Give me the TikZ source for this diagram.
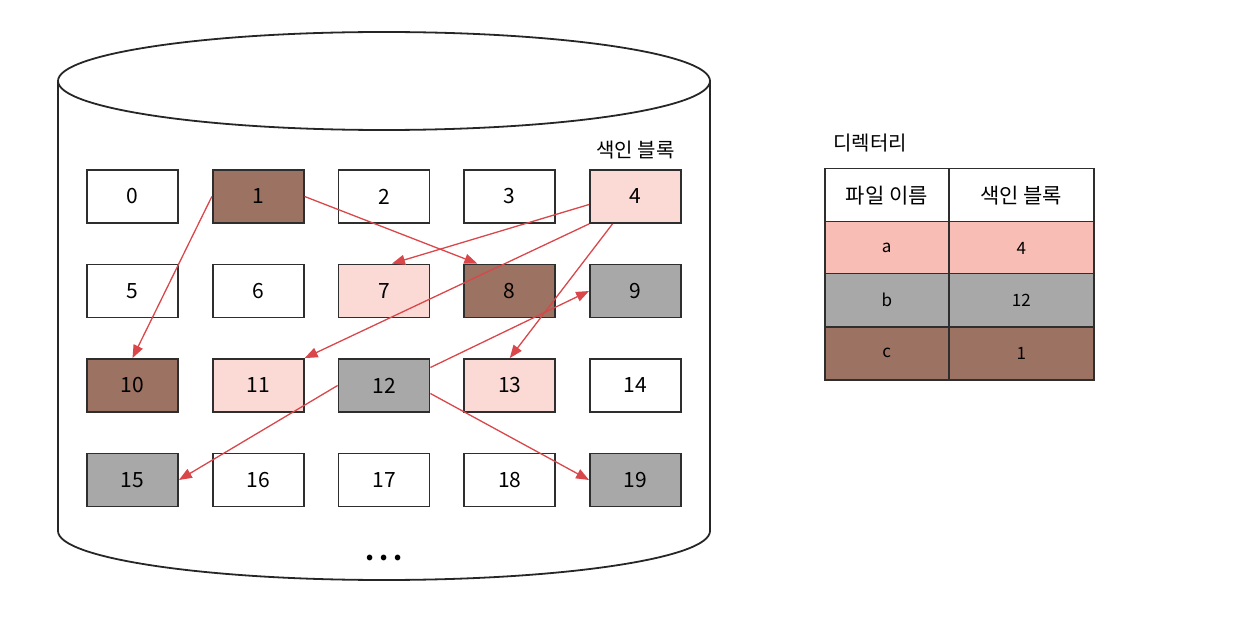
\documentclass[tikz,border=0pt]{standalone}
\usepackage{fontspec}
\setmainfont{Noto Sans CJK KR}
\usetikzlibrary{arrows.meta,calc}
\definecolor{brownc}{HTML}{9C7262}
\definecolor{pinkl}{HTML}{FBDAD6}
\definecolor{grayc}{HTML}{A8A8A8}
\definecolor{pinkt}{HTML}{F8BDB5}
\definecolor{linec}{HTML}{2E2E2E}
\definecolor{arrowc}{HTML}{D9474A}
\tikzset{
  blk/.style={draw=linec, line width=1.8pt, fill=white, minimum width=91pt, minimum height=53pt, inner sep=0pt, font=\fontsize{21}{21}\selectfont},
  cell/.style={draw=linec, line width=1.5pt, minimum height=53pt, inner sep=0pt, font=\fontsize{17}{17}\selectfont},
  cellA/.style={cell, minimum width=124pt},
  cellB/.style={cell, minimum width=145pt},
  ptr/.style={draw=arrowc, line width=1.3pt, -{Triangle[length=13pt,width=10pt]}},
  cyl/.style={draw=black!85, line width=1.8pt}
}
\begin{document}
\begin{tikzpicture}[x=1pt,y=-1pt]
\useasboundingbox (0,0) rectangle (1243,631);
% cylinder
\draw[cyl] (384,81) ellipse [x radius=326pt, y radius=49pt];
\draw[cyl] (58,81) -- (58,531) arc[start angle=180, end angle=360, x radius=326pt, y radius=49pt] -- (710,81);
% blocks
\foreach \n/\c/\r/\f in {0/0/0/white,1/1/0/brownc,2/2/0/white,3/3/0/white,4/4/0/pinkl,
  5/0/1/white,6/1/1/white,7/2/1/pinkl,8/3/1/brownc,9/4/1/grayc,
  10/0/2/brownc,11/1/2/pinkl,12/2/2/grayc,13/3/2/pinkl,14/4/2/white,
  15/0/3/grayc,16/1/3/white,17/2/3/white,18/3/3/white,19/4/3/grayc}{
  \node[blk, fill=\f] (b\n) at ({132.5+125.75*\c},{196.5+94.5*\r}) {\n};
}
\node[font=\fontsize{20}{20}\selectfont, anchor=south] (lbl) at (635.5,163) {색인 블록};
\node[font=\bfseries\fontsize{26}{26}\selectfont, anchor=base] (dots) at (384,560) {.\hspace{5pt}.\hspace{5pt}.};
% arrows
\draw[ptr] (b1.west) -- (b10.north);
\draw[ptr] (b1.east) -- ($(b8.north west)+(14,0)$);
\draw[ptr] ($(b4.west)+(0,8)$) -- ($(b7.north)+(8,0)$);
\draw[ptr] (b4.south west) -- (b11.north east);
\draw[ptr] ($(b4.south)+(-23,0)$) -- (b13.north);
\draw[ptr] ($(b12.east)+(0,-18)$) -- (b9.west);
\draw[ptr] (b12.west) -- (b15.east);
\draw[ptr] ($(b12.east)+(0,8)$) -- (b19.west);
% directory table
\node[font=\fontsize{20}{20}\selectfont, anchor=west] (dir) at (830,143) {디렉터리};
\node[cellA, fill=white, anchor=north west, font=\fontsize{21}{21}\selectfont] (h1) at (824,168) {파일 이름};
\node[cellB, fill=white, anchor=north west, font=\fontsize{21}{21}\selectfont] (h2) at (948,168) {색인 블록};
\node[cellA, fill=pinkt, anchor=north west] (a1) at (824,221) {a};
\node[cellB, fill=pinkt, anchor=north west] (a2) at (948,221) {4};
\node[cellA, fill=grayc, anchor=north west] (bb1) at (824,273) {b};
\node[cellB, fill=grayc, anchor=north west] (bb2) at (948,273) {12};
\node[cellA, fill=brownc, anchor=north west] (c1) at (824,326) {c};
\node[cellB, fill=brownc, anchor=north west] (c2) at (948,326) {1};
\end{tikzpicture}
\end{document}
